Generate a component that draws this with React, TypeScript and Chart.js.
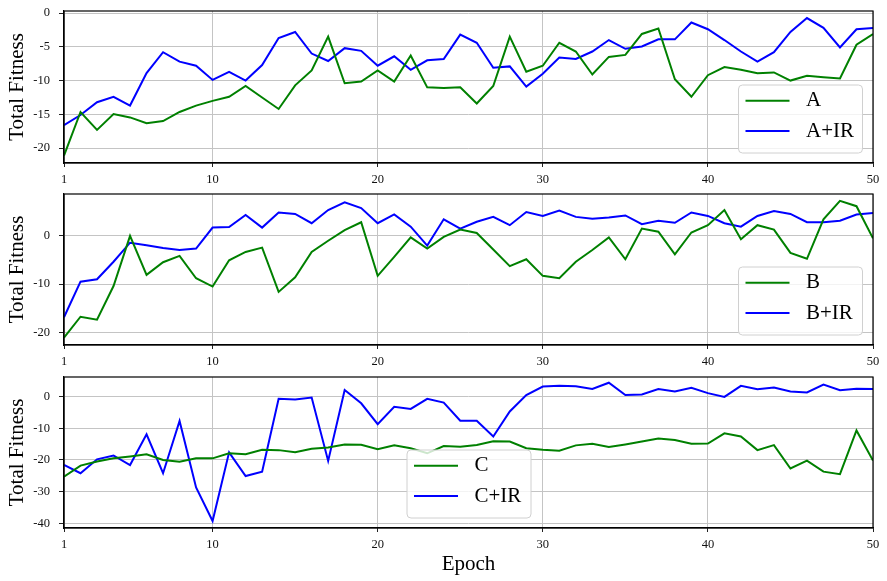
import React, { useEffect, useRef } from "react";
import { Chart, registerables } from "chart.js";

Chart.register(...registerables);

// ---------- data ----------
const epochs = [
  1, 2, 3, 4, 5, 6, 7, 8, 9, 10, 11, 12, 13, 14, 15, 16, 17, 18, 19, 20, 21, 22, 23, 24, 25,
  26, 27, 28, 29, 30, 31, 32, 33, 34, 35, 36, 37, 38, 39, 40, 41, 42, 43, 44, 45, 46, 47, 48, 49, 50,
];
const xTicks = [1, 10, 20, 30, 40, 50];

const labelsA = ["A", "A+IR"];
const fitnessA = [
  -21.1, -14.65, -17.3, -14.95, -15.45, -16.3, -16.0, -14.65, -13.7, -13.0,
  -12.4, -10.8, -12.5, -14.2, -10.7, -8.5, -3.5, -10.4, -10.15, -8.5,
  -10.15, -6.3, -11.0, -11.1, -11.0, -13.4, -10.8, -3.5, -8.7, -7.8,
  -4.4, -5.7, -9.1, -6.5, -6.2, -3.1, -2.3, -9.8, -12.4, -9.2,
  -8.0, -8.4, -8.9, -8.8, -10.0, -9.3, -9.5, -9.7, -4.7, -3.1,
];
const fitnessAIR = [
  -16.6, -15.1, -13.2, -12.4, -13.7, -8.9, -5.8, -7.2, -7.8, -9.9,
  -8.7, -10.0, -7.7, -3.7, -2.8, -6.0, -7.1, -5.2, -5.6, -7.8,
  -6.4, -8.4, -7.0, -6.8, -3.2, -4.4, -8.1, -7.9, -10.9, -9.0,
  -6.6, -6.8, -5.7, -4.0, -5.3, -4.95, -3.9, -3.9, -1.4, -2.4,
  -4.0, -5.7, -7.2, -5.8, -2.8, -0.75, -2.2, -5.1, -2.4, -2.2,
];
const yTicksA = [-20, -15, -10, -5, 0];

const labelsB = ["B", "B+IR"];
const fitnessB = [
  -21.0, -16.7, -17.3, -10.4, -0.1, -8.1, -5.5, -4.2, -8.8, -10.5,
  -5.1, -3.4, -2.5, -11.6, -8.6, -3.4, -1.1, 1.1, 2.7, -8.3,
  -4.4, -0.4, -2.7, -0.3, 1.2, 0.5, -2.9, -6.3, -4.9, -8.3,
  -8.8, -5.4, -3.0, -0.4, -4.9, 1.4, 0.75, -3.9, 0.6, 2.1,
  5.2, -0.8, 2.1, 1.2, -3.6, -4.8, 3.3, 7.1, 6.0, -0.6,
];
const fitnessBIR = [
  -16.8, -9.5, -9.0, -5.4, -1.5, -2.0, -2.6, -3.0, -2.7, 1.6,
  1.7, 4.2, 1.6, 4.7, 4.4, 2.5, 5.2, 6.8, 5.6, 2.5,
  4.3, 1.8, -2.1, 3.3, 1.4, 2.8, 3.8, 2.1, 4.8, 4.0,
  5.1, 3.8, 3.4, 3.7, 4.1, 2.3, 3.0, 2.6, 4.7, 4.0,
  2.5, 1.8, 4.0, 5.0, 4.4, 2.7, 2.7, 3.0, 4.3, 4.6,
];
const yTicksB = [-20, -10, 0];

const labelsC = ["C", "C+IR"];
const fitnessC = [
  -25.3, -21.8, -20.5, -19.5, -18.9, -18.2, -20.0, -20.6, -19.5, -19.5,
  -17.9, -18.2, -16.8, -16.9, -17.6, -16.5, -16.1, -15.1, -15.2, -16.6,
  -15.4, -16.3, -17.9, -15.6, -15.8, -15.3, -14.1, -14.2, -16.3, -16.8,
  -17.1, -15.4, -14.9, -15.9, -15.1, -14.2, -13.2, -13.7, -14.9, -14.8,
  -11.6, -12.6, -16.9, -15.3, -22.7, -20.2, -23.7, -24.5, -10.7, -20.2,
];
const fitnessCIR = [
  -21.6, -24.2, -19.8, -18.6, -21.6, -11.9, -24.2, -7.7, -28.7, -39.3,
  -17.6, -25.1, -23.7, -0.7, -0.9, -0.3, -20.3, 2.1, -2.1, -8.7,
  -3.2, -3.9, -0.7, -1.9, -7.6, -7.6, -12.6, -4.7, 0.5, 3.2,
  3.4, 3.3, 2.4, 4.4, 0.5, 0.7, 2.4, 1.6, 2.8, 1.1,
  -0.1, 3.4, 2.3, 2.9, 1.6, 1.3, 3.8, 2.0, 2.5, 2.4,
];
const yTicksC = [-40, -30, -20, -10, 0];

const yTitle = "Total Fitness";
const xTitle = "Epoch";

// ---------- styles ----------
const SERIF = "'Liberation Serif', 'Times New Roman', serif";
const GREEN = "#008000";
const BLUE = "#0000ff";

type LegendPos = { corner: "lowerRight" | "lowerLeftAt"; dx: number; dy: number };

type Panel = {
  labels: string[];
  base: number[];
  ir: number[];
  yMin: number;
  yMax: number;
  yTicks: number[];
  top: number;
  height: number;
  xHeight: number;
  showXTitle: boolean;
  legend: LegendPos;
};

const panels: Panel[] = [
  { labels: labelsA, base: fitnessA, ir: fitnessAIR, yMin: -22.2, yMax: 0.3, yTicks: yTicksA,
    top: 0, height: 190, xHeight: 27, showXTitle: false, legend: { corner: "lowerRight", dx: 10.5, dy: 10 } },
  { labels: labelsB, base: fitnessB, ir: fitnessBIR, yMin: -22.5, yMax: 8.5, yTicks: yTicksB,
    top: 183, height: 190, xHeight: 28, showXTitle: false, legend: { corner: "lowerRight", dx: 10.5, dy: 10 } },
  { labels: labelsC, base: fitnessC, ir: fitnessCIR, yMin: -41.5, yMax: 6.2, yTicks: yTicksC,
    top: 366, height: 215, xHeight: 53, showXTitle: true, legend: { corner: "lowerLeftAt", dx: 343, dy: 10 } },
];

const framePlugin = {
  id: "frame",
  afterDatasetsDraw(chart: any) {
    const { ctx, chartArea } = chart;
    const { left, top, right, bottom } = chartArea;
    ctx.save();
    ctx.strokeStyle = "#000";
    ctx.lineWidth = 1.2;
    ctx.strokeRect(left, top, right - left, bottom - top);
    ctx.restore();
  },
};

const boxLegendPlugin = {
  id: "boxLegend",
  afterDraw(chart: any, _args: any, opts: any) {
    const { ctx, chartArea } = chart;
    const w = 124;
    const h = 68;
    let x0: number;
    const y0 = chartArea.bottom - opts.dy - h;
    if (opts.corner === "lowerRight") x0 = chartArea.right - opts.dx - w;
    else x0 = chartArea.left + opts.dx;
    ctx.save();
    ctx.beginPath();
    ctx.roundRect(x0, y0, w, h, 4);
    ctx.fillStyle = "rgba(255,255,255,0.8)";
    ctx.fill();
    ctx.strokeStyle = "#d0d0d0";
    ctx.lineWidth = 1;
    ctx.stroke();
    chart.data.datasets.forEach((ds: any, i: number) => {
      const y = y0 + 15.7 + i * 30.3;
      ctx.beginPath();
      ctx.strokeStyle = ds.borderColor;
      ctx.lineWidth = 2;
      ctx.moveTo(x0 + 7, y);
      ctx.lineTo(x0 + 51, y);
      ctx.stroke();
      ctx.fillStyle = "#000";
      ctx.font = `21px ${SERIF}`;
      ctx.textBaseline = "middle";
      ctx.textAlign = "left";
      ctx.fillText(ds.label, x0 + 67.5, y);
    });
    ctx.restore();
  },
};

function PanelChart({ p }: { p: Panel }) {
  const ref = useRef<HTMLCanvasElement | null>(null);
  useEffect(() => {
    if (!ref.current) return;
    const chart = new Chart(ref.current, {
      type: "line",
      data: {
        labels: epochs,
        datasets: [
          { label: p.labels[0], data: p.base, borderColor: GREEN, backgroundColor: GREEN, borderWidth: 2, pointRadius: 0, tension: 0 },
          { label: p.labels[1], data: p.ir, borderColor: BLUE, backgroundColor: BLUE, borderWidth: 2, pointRadius: 0, tension: 0 },
        ],
      },
      options: {
        animation: false,
        responsive: false,
        devicePixelRatio: 1,
        layout: { padding: { top: 11, right: 14, left: 0, bottom: 0 } },
        plugins: {
          legend: { display: false },
          tooltip: { enabled: false },
          boxLegend: p.legend,
        } as any,
        scales: {
          x: {
            type: "linear",
            min: 1,
            max: 50,
            afterBuildTicks: (s: any) => {
              s.ticks = xTicks.map((v) => ({ value: v }));
            },
            afterFit: (s: any) => {
              s.height = p.xHeight;
              s.paddingLeft = 0;
              s.paddingRight = 0;
            },
            grid: { color: "#c4c4c4", lineWidth: 1, tickLength: 4, tickColor: "#222", drawTicks: true },
            border: { display: true, color: "#000", width: 1.2 },
            ticks: {
              autoSkip: false,
              maxRotation: 0,
              padding: 5,
              color: "#111",
              font: { family: SERIF, size: 12.5 },
              callback: (v: any) => String(v),
            },
            title: {
              display: p.showXTitle,
              text: xTitle,
              color: "#000",
              font: { family: SERIF, size: 21 },
              padding: { top: 0, bottom: 4 },
            },
          },
          y: {
            type: "linear",
            min: p.yMin,
            max: p.yMax,
            afterBuildTicks: (s: any) => {
              s.ticks = p.yTicks.map((v) => ({ value: v }));
            },
            afterFit: (s: any) => {
              s.width = 64;
              s.paddingTop = 0;
              s.paddingBottom = 0;
            },
            grid: { color: "#c4c4c4", lineWidth: 1, tickLength: 5, tickColor: "#222", drawTicks: true },
            border: { display: true, color: "#000", width: 1.2 },
            ticks: {
              padding: 9,
              color: "#111",
              font: { family: SERIF, size: 12.5 },
              callback: (v: any) => String(v),
            },
            title: {
              display: true,
              text: yTitle,
              color: "#000",
              font: { family: SERIF, size: 21 },
              padding: { top: 5, bottom: 0 },
            },
          },
        },
      },
      plugins: [framePlugin, boxLegendPlugin],
    } as any);
    return () => chart.destroy();
  }, [p]);
  return (
    <canvas
      ref={ref}
      width={887}
      height={p.height}
      style={{ position: "absolute", left: 0, top: p.top, width: 887, height: p.height }}
    />
  );
}

export default function App() {
  useEffect(() => {
    document.body.style.margin = "0";
  }, []);
  return (
    <div style={{ position: "absolute", left: 0, top: 0, width: 887, height: 581, background: "#fff", overflow: "hidden" }}>
      {panels.map((p, i) => (
        <PanelChart key={i} p={p} />
      ))}
    </div>
  );
}
